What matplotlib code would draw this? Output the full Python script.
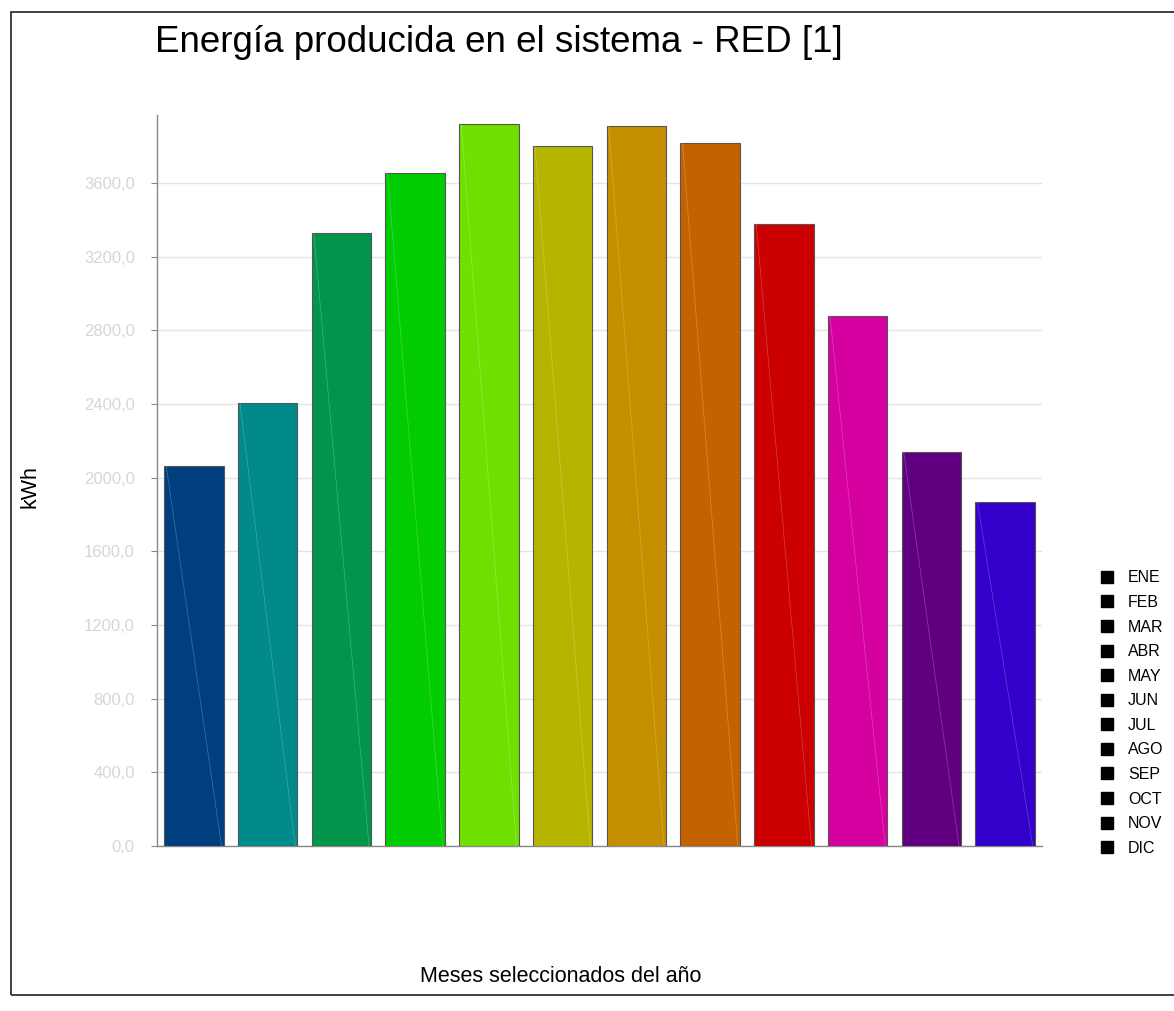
import matplotlib
matplotlib.use("Agg")
import matplotlib.pyplot as plt
from matplotlib.patches import Rectangle
from matplotlib.lines import Line2D
from matplotlib.ticker import FuncFormatter

plt.rcParams["font.family"] = ["Liberation Sans", "DejaVu Sans"]

# data
months = ["ENE", "FEB", "MAR", "ABR", "MAY", "JUN",
          "JUL", "AGO", "SEP", "OCT", "NOV", "DIC"]
energy_kwh = [2063, 2405, 3328, 3654, 3920, 3801,
              3909, 3817, 3377, 2878, 2139, 1868]
bar_colors = ["#003f7f", "#008a8a", "#00954a", "#00cc00", "#70e000", "#b5b500",
              "#c49000", "#c46200", "#cc0000", "#d600a0", "#600080", "#3300cc"]
y_ticks = [0, 400, 800, 1200, 1600, 2000, 2400, 2800, 3200, 3600]

W, H = 1174, 1011
fig = plt.figure(figsize=(W / 100, H / 100), dpi=100)

# outer frame (right edge runs off the picture)
fig.add_artist(Rectangle((11 / W, 1 - 995 / H), (W + 20 - 11) / W, (995 - 12) / H,
                         transform=fig.transFigure, fill=False,
                         edgecolor="#333333", linewidth=1.3))

ax = fig.add_axes([157 / W, 1 - 846 / H, (1042 - 157) / W, (846 - 115) / H])

x = list(range(len(months)))
bars = ax.bar(x, energy_kwh, width=0.81, color=bar_colors,
              edgecolor="#555555", linewidth=0.8, zorder=3)

# faint diagonal seam seen in every bar
for b in bars:
    x0, w, h = b.get_x(), b.get_width(), b.get_height()
    ax.plot([x0 + 0.03, x0 + w - 0.03], [h, 0], color="white",
            linewidth=0.6, alpha=0.22, zorder=4)

ax.set_xlim(-0.5, 11.5)
ax.set_ylim(0, 3969)
ax.set_yticks(y_ticks)
ax.yaxis.set_major_formatter(FuncFormatter(lambda v, p: f"{v:.1f}".replace(".", ",")))
ax.set_xticks([])
ax.tick_params(axis="y", colors="#888888", labelcolor="#d6d6d6",
               labelsize=12, length=4, width=0.8, pad=12)
ax.grid(axis="y", color="#e4e4e4", linewidth=1, zorder=0)

for s in ["top", "right"]:
    ax.spines[s].set_visible(False)
for s in ["left", "bottom"]:
    ax.spines[s].set_color("#888888")
    ax.spines[s].set_linewidth(1)

fig.text(499 / W, 1 - 42 / H, "Energía producida en el sistema - RED [1]",
         ha="center", va="center", fontsize=26.5)
fig.text(561 / W, 1 - 976 / H, "Meses seleccionados del año",
         ha="center", va="center", fontsize=15.5)
fig.text(30 / W, 1 - 487 / H, "kWh", rotation=90,
         ha="center", va="center", fontsize=15.5)

handles = [Line2D([], [], marker="s", linestyle="none", markersize=9,
                  markerfacecolor="black", markeredgecolor="black")
           for _ in months]
fig.legend(handles, months, loc="upper left",
           bbox_to_anchor=(1093 / W, 1 - 564 / H), frameon=False,
           fontsize=11.5, handlelength=1.0, handletextpad=0.8,
           labelspacing=0.6, borderaxespad=0)

fig.savefig("out.png", dpi=100, facecolor="white")
